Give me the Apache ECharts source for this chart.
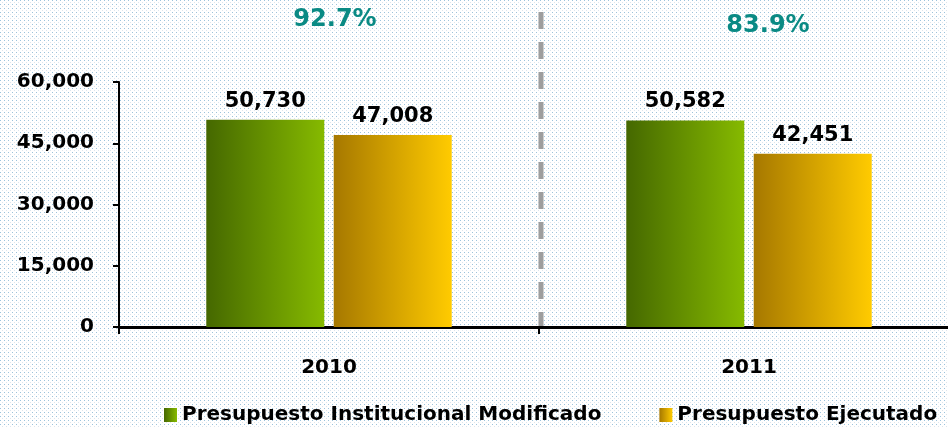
<!DOCTYPE html>
<html>
<head>
<meta charset="utf-8">
<script src="https://cdn.jsdelivr.net/npm/echarts@6/dist/echarts.min.js"></script>
<style>
  html, body { margin: 0; padding: 0; }
  #container { width: 948px; height: 428px; }
</style>
</head>
<body>
<div id="container"></div>
<script>
const years = ['2010', '2011'];
const modificado = [50730, 50582];
const ejecutado = [47008, 42451];
const avance = ['92.7%', '83.9%'];
const yTicks = [0, 15000, 30000, 45000, 60000];

const font = 'DejaVu Sans';

// dotted background like the original
function dotPattern() {
  const c = document.createElement('canvas');
  c.width = 4;
  c.height = 4;
  const ctx = c.getContext('2d');
  ctx.fillStyle = '#ffffff';
  ctx.fillRect(0, 0, 4, 4);
  ctx.fillStyle = '#9cc3dc';
  ctx.fillRect(0, 0, 1, 1);
  ctx.fillStyle = '#dde5ec';
  ctx.fillRect(2, 2, 1, 1);
  return c;
}

function fmt(v) {
  return v.toLocaleString('en-US');
}

const green = new echarts.graphic.LinearGradient(0, 0, 1, 0, [
  { offset: 0, color: '#456800' },
  { offset: 1, color: '#86ba00' }
]);
const yellow = new echarts.graphic.LinearGradient(0, 0, 1, 0, [
  { offset: 0, color: '#a67800' },
  { offset: 1, color: '#ffcb00' }
]);

const chart = echarts.init(document.getElementById('container'));

const labelStyle = {
  show: true,
  position: 'top',
  distance: 8,
  color: '#000',
  fontFamily: font,
  fontWeight: 'bold',
  fontSize: 21,
  formatter: function (p) { return fmt(p.value); }
};

chart.setOption({
  backgroundColor: { image: dotPattern(), repeat: 'repeat' },
  animation: false,
  grid: { left: 119, top: 82, width: 840, height: 245, outerBoundsMode: 'none', containLabel: false },
  legend: {
    bottom: 3,
    left: 164,
    width: 790,
    padding: 0,
    icon: 'rect',
    itemWidth: 13,
    itemHeight: 14,
    itemGap: 58,
    textStyle: { fontFamily: font, fontWeight: 'bold', fontSize: 20, color: '#000' },
    data: ['Presupuesto Institucional Modificado', 'Presupuesto Ejecutado']
  },
  xAxis: {
    type: 'category',
    data: years,
    boundaryGap: true,
    axisLine: { lineStyle: { color: '#000', width: 3 } },
    axisTick: { show: true, length: 7, lineStyle: { color: '#000', width: 2 } },
    axisLabel: { margin: 31, color: '#000', fontFamily: font, fontWeight: 'bold', fontSize: 20 }
  },
  yAxis: {
    type: 'value',
    min: yTicks[0],
    max: yTicks[yTicks.length - 1],
    interval: 15000,
    splitLine: { show: false },
    axisLine: { show: true, lineStyle: { color: '#000', width: 2 } },
    axisTick: { show: true, length: 6, lineStyle: { color: '#000', width: 2 } },
    axisLabel: {
      margin: 25,
      color: '#000',
      fontFamily: font,
      fontWeight: 'bold',
      fontSize: 20,
      formatter: function (v) { return fmt(v); }
    }
  },
  series: [
    {
      name: 'Presupuesto Institucional Modificado',
      type: 'bar',
      data: modificado,
      barWidth: 118,
      barGap: '8%',
      itemStyle: { color: green },
      label: labelStyle
    },
    {
      name: 'Presupuesto Ejecutado',
      type: 'bar',
      data: ejecutado,
      barWidth: 118,
      itemStyle: { color: yellow },
      label: labelStyle
    }
  ]
});

// percentages above each year and the dashed divider between the years
const x0 = chart.convertToPixel({ xAxisIndex: 0 }, years[0]);
const x1 = chart.convertToPixel({ xAxisIndex: 0 }, years[1]);
const mid = (x0 + x1) / 2 + 2;
const yBase = chart.convertToPixel({ yAxisIndex: 0 }, 0);

chart.setOption({
  graphic: [
    {
      type: 'line',
      shape: { x1: mid, y1: 12, x2: mid, y2: yBase + 6 },
      style: { stroke: '#9e9e9e', lineWidth: 5, lineDash: [17, 13] }
    },
    {
      type: 'text',
      x: x0 + 6,
      y: 20,
      style: {
        text: avance[0], fill: '#0a8a84', fontFamily: font, fontWeight: 'bold',
        fontSize: 24, align: 'center', verticalAlign: 'middle'
      }
    },
    {
      type: 'text',
      x: x1 + 19,
      y: 26,
      style: {
        text: avance[1], fill: '#0a8a84', fontFamily: font, fontWeight: 'bold',
        fontSize: 24, align: 'center', verticalAlign: 'middle'
      }
    }
  ]
});
</script>
</body>
</html>
